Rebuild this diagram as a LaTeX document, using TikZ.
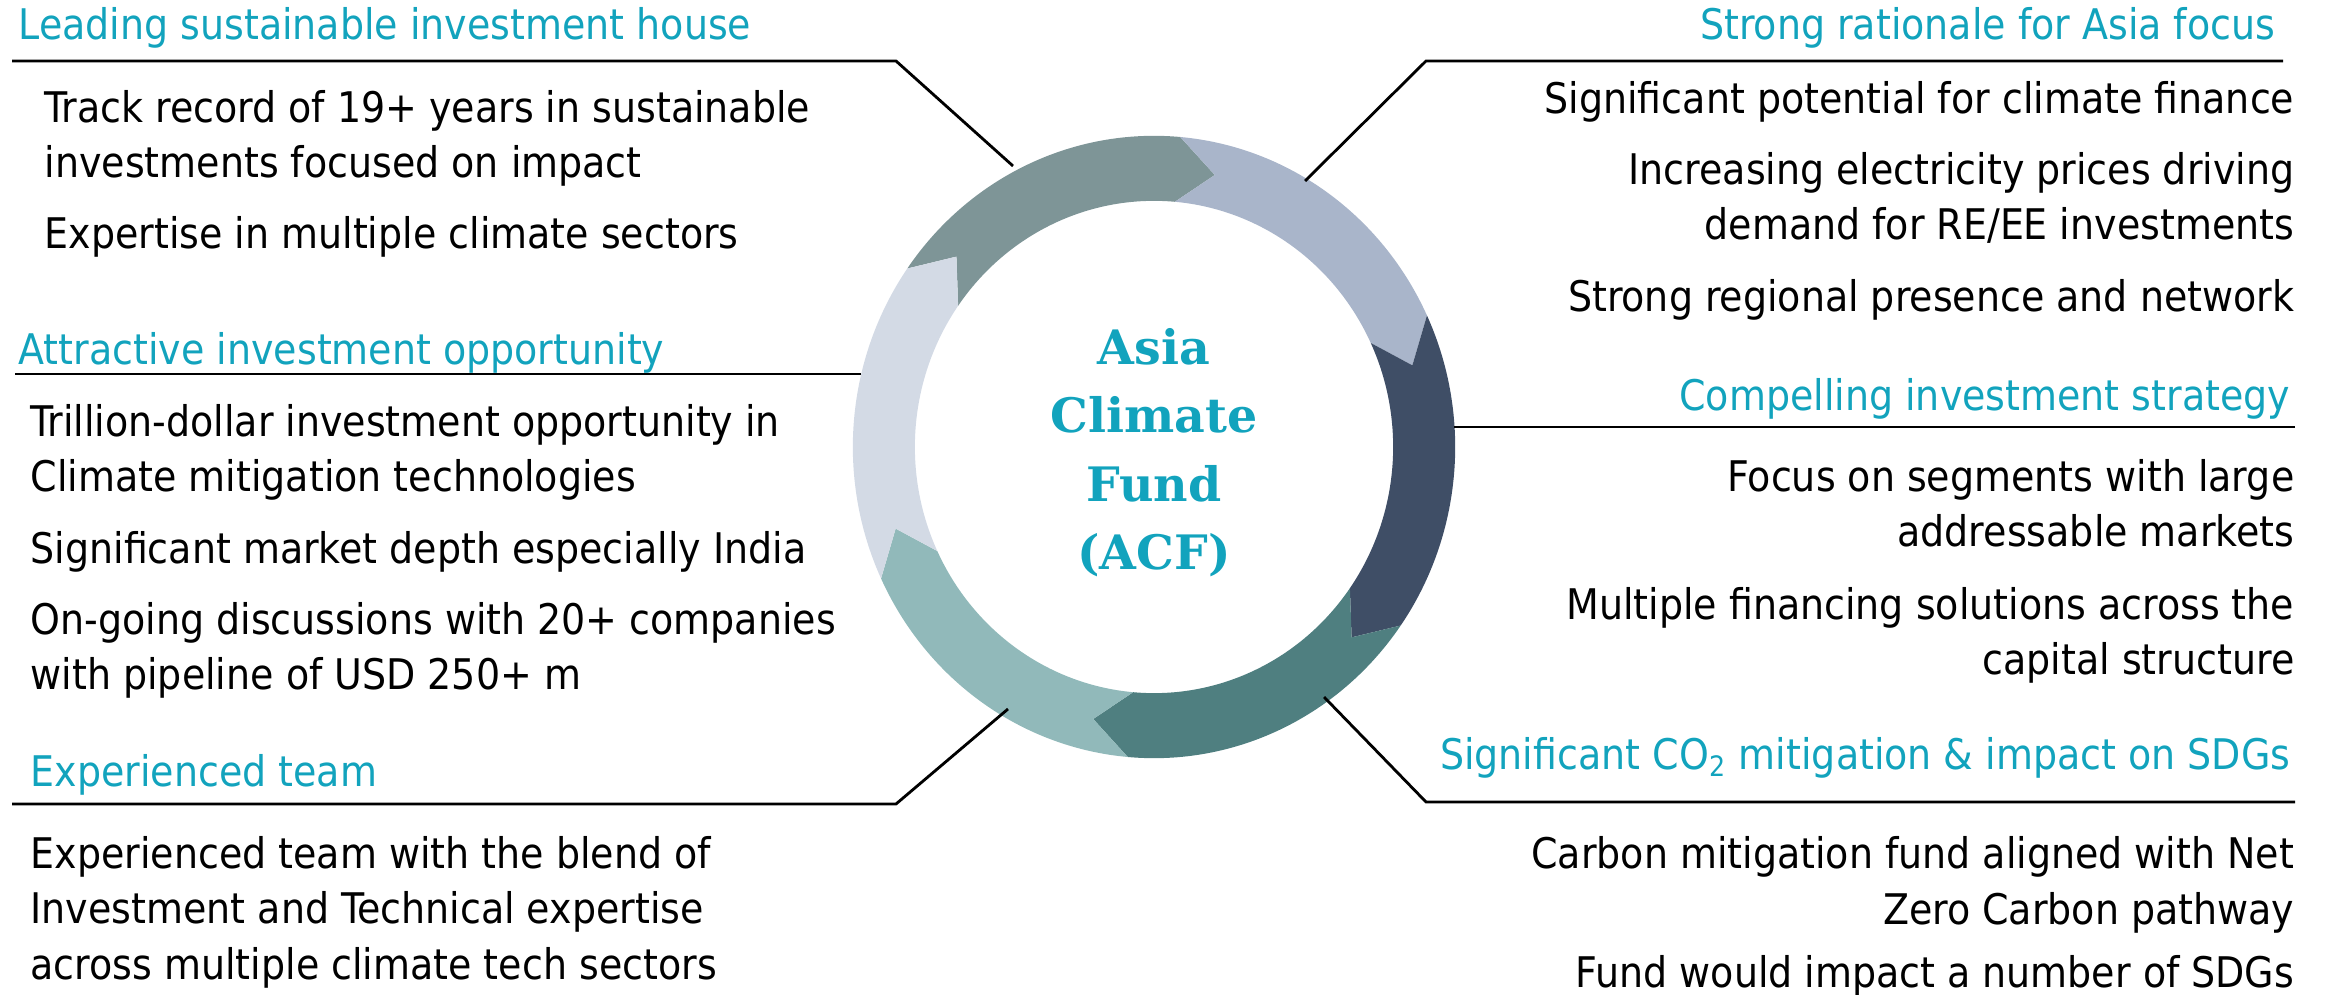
\documentclass[tikz,border=0pt]{standalone}
\usepackage{fontspec}
\setmainfont{DejaVu Sans Condensed}
\newfontfamily\acfserif{DejaVu Serif}
\definecolor{acfteal}{RGB}{18,163,189}
\definecolor{ringA}{HTML}{7E9597}
\definecolor{ringB}{HTML}{A9B5CA}
\definecolor{ringC}{HTML}{3F4E66}
\definecolor{ringD}{HTML}{4F7F80}
\definecolor{ringE}{HTML}{91B9BA}
\definecolor{ringF}{HTML}{D3DAE5}
\tikzset{
  head/.style={inner sep=0pt, text=acfteal, font=\fontsize{12}{15}\selectfont},
  body/.style={inner sep=0pt, font=\fontsize{12}{15.7}\selectfont},
  link/.style={line width=0.8pt},
}
\begin{document}
\begin{tikzpicture}[x=0.01cm,y=-0.01cm]
  \useasboundingbox (0,0) rectangle (2325,995);
  % ring of six arrows, clockwise
  \begin{scope}[shift={(1154,447)}]
    \foreach \s/\col in {145/ringA,85/ringB,25/ringC,-35/ringD,-95/ringE,-155/ringF}{
      \pgfmathsetmacro\e{\s-60}
      \fill[\col] (\s:3.01cm and 3.11cm)
        arc[start angle=\s,end angle=\e,x radius=3.01cm,y radius=3.11cm]
        -- (\e-8:2.70cm and 2.79cm) -- (\e:2.39cm and 2.46cm)
        arc[start angle=\e,end angle=\s,x radius=2.39cm,y radius=2.46cm]
        -- (\s-8:2.70cm and 2.79cm) -- cycle;
    }
  \end{scope}
  % base of a multi-line node is its last line
  \node[inner sep=0pt,anchor=base,align=center,text=acfteal,
    font=\acfserif\bfseries\fontsize{13.5}{19.5}\selectfont] (acf) at (1154,570)
    {Asia\\Climate\\Fund\\(ACF)};

  % left side
  \node[head,anchor=base west] (leadH) at (18,40) {Leading sustainable investment house};
  \node[body,anchor=base west,align=left] (lead1) at (44,178) {Track record of 19+ years in sustainable\\investments focused on impact};
  \node[body,anchor=base west] (lead2) at (44,249) {Expertise in multiple climate sectors};
  \coordinate (leadL) at (12,61);
  \coordinate (leadK) at (896,61);
  \coordinate (leadE) at (1013,166);
  \draw[link] (leadL) -- (leadK) -- (leadE);

  \node[head,anchor=base west] (oppH) at (18,365) {Attractive investment opportunity};
  \node[body,anchor=base west,align=left] (opp1) at (30,492) {Trillion-dollar investment opportunity in\\Climate mitigation technologies};
  \node[body,anchor=base west] (opp2) at (30,564) {Significant market depth especially India};
  \node[body,anchor=base west,align=left] (opp3) at (30,690) {On-going discussions with 20+ companies\\with pipeline of USD 250+ m};
  \coordinate (oppL) at (15,374);
  \coordinate (oppE) at (861,374);
  \draw[link] (oppL) -- (oppE);

  \node[head,anchor=base west] (teamH) at (30,787) {Experienced team};
  \node[body,anchor=base west,align=left] (team1) at (30,979) {Experienced team with the blend of\\Investment and Technical expertise\\across multiple climate tech sectors};
  \coordinate (teamL) at (12,804);
  \coordinate (teamK) at (896,804);
  \coordinate (teamE) at (1008,709);
  \draw[link] (teamL) -- (teamK) -- (teamE);

  % right side
  \node[head,anchor=base east] (asiaH) at (2276,40) {Strong rationale for Asia focus};
  \node[body,anchor=base east] (asia1) at (2295,114) {Significant potential for climate finance};
  \node[body,anchor=base east,align=right] (asia2) at (2295,240) {Increasing electricity prices driving\\demand for RE/EE investments};
  \node[body,anchor=base east] (asia3) at (2295,312) {Strong regional presence and network};
  \coordinate (asiaR) at (2283,61);
  \coordinate (asiaK) at (1426,61);
  \coordinate (asiaE) at (1305,181);
  \draw[link] (asiaR) -- (asiaK) -- (asiaE);

  \node[head,anchor=base east] (stratH) at (2291,411) {Compelling investment strategy};
  \node[body,anchor=base east,align=right] (strat1) at (2295,547) {Focus on segments with large\\addressable markets};
  \node[body,anchor=base east,align=right] (strat2) at (2295,675) {Multiple financing solutions across the\\capital structure};
  \coordinate (stratR) at (2295,427);
  \coordinate (stratE) at (1454,427);
  \draw[link] (stratR) -- (stratE);

  \node[head,anchor=base east] (sdgH) at (2291,770) {Significant CO\textsubscript{2} mitigation \& impact on SDGs};
  \node[body,anchor=base east,align=right] (sdg1) at (2295,924) {Carbon mitigation fund aligned with Net\\Zero Carbon pathway};
  \node[body,anchor=base east] (sdg2) at (2295,987) {Fund would impact a number of SDGs};
  \coordinate (sdgR) at (2295,802);
  \coordinate (sdgK) at (1426,802);
  \coordinate (sdgE) at (1324,697);
  \draw[link] (sdgR) -- (sdgK) -- (sdgE);
\end{tikzpicture}
\end{document}
